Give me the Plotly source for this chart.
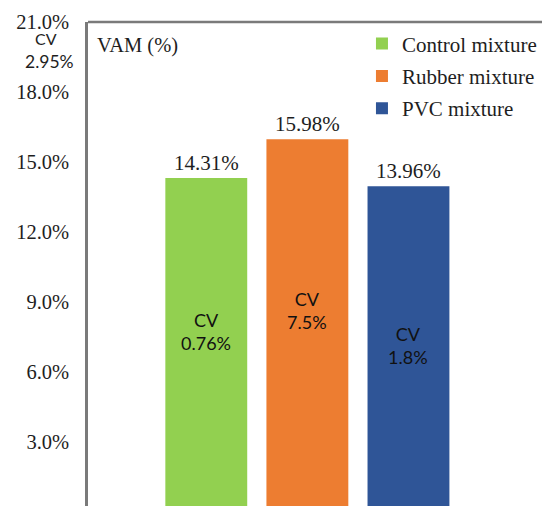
import plotly.graph_objects as go

mixtures = ["Control mixture", "Rubber mixture", "PVC mixture"]
vam_values = [14.31, 15.98, 13.96]
cv_values = ["0.76%", "7.5%", "1.8%"]
overall_cv = "2.95%"
y_ticks = [0, 3, 6, 9, 12, 15, 18, 21]

colors = ["#92D050", "#ED7D31", "#2F5597"]
cv_label_y = [7.75, 8.65, 7.15]
x_pos = [0, 1, 2]

serif = "Liberation Serif, Times New Roman, serif"
sans = "Lato, Open Sans, sans-serif"
txt = "#1e1e1e"

fig = go.Figure()
for i, name in enumerate(mixtures):
    fig.add_trace(go.Bar(
        x=[x_pos[i]], y=[vam_values[i]], name=name,
        legendgroup=name,
        marker=dict(color=colors[i], line=dict(width=0)),
        width=0.81,
        text=[f"{vam_values[i]:.2f}%"], textposition="outside",
        textfont=dict(family=serif, size=21, color=txt),
        cliponaxis=False,
    ))
    fig.add_annotation(
        x=x_pos[i], y=cv_label_y[i], text=f"CV<br>{cv_values[i]}",
        showarrow=False, font=dict(family=sans, size=18, color="#111"),
    )

fig.add_annotation(x=0.015, xref="paper", y=20.0, yref="y", text="VAM (%)",
                   showarrow=False, xanchor="left", yanchor="middle",
                   font=dict(family=serif, size=20.5, color=txt))
# overall CV note near the top-left, beside the axis
fig.add_annotation(x=-0.091, xref="paper", xanchor="center", y=20.3, yref="y",
                   text="CV", showarrow=False,
                   font=dict(family=sans, size=16, color=txt))
fig.add_annotation(x=-0.084, xref="paper", xanchor="center", y=19.29, yref="y",
                   text=overall_cv, showarrow=False,
                   font=dict(family=sans, size=17.5, color=txt))

fig.update_layout(
    width=542, height=504,
    margin=dict(l=80, r=0, t=14, b=0),
    plot_bgcolor="white", paper_bgcolor="white",
    barmode="overlay", showlegend=True,
    legend=dict(x=0.593, y=0.997, xanchor="left", yanchor="top",
                font=dict(family=serif, size=21, color=txt),
                bgcolor="rgba(0,0,0,0)", itemwidth=30,
                traceorder="grouped", tracegroupgap=2),
    xaxis=dict(range=[-1.17, 3.4], showticklabels=False, showgrid=False,
               zeroline=False, showline=False, ticks=""),
    yaxis=dict(range=[0, 21], tickvals=y_ticks,
               ticktext=[f"{v:.1f}%" for v in y_ticks],
               showgrid=False, zeroline=False,
               showline=True, linecolor="#7a7a7a", linewidth=2.5, mirror=False,
               tickfont=dict(family=serif, size=20.5, color=txt), ticks="",
               ticklabelstandoff=12),
)
fig.add_shape(type="line", xref="paper", yref="paper", x0=0, x1=1, y0=1, y1=1,
              line=dict(color="#7a7a7a", width=2.5))
fig.write_html("out.html")
